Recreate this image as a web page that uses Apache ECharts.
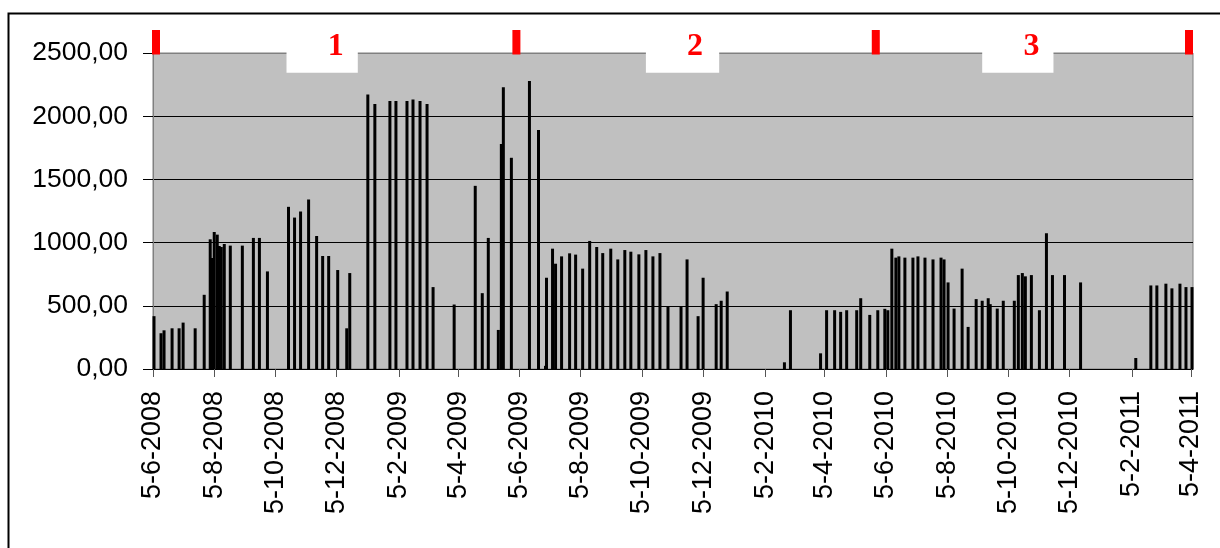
<!DOCTYPE html>
<html><head><meta charset="utf-8">
<script src="https://cdn.jsdelivr.net/npm/echarts@6/dist/echarts.min.js"></script>
<style>html,body{margin:0;padding:0;background:#fff}#c{width:1220px;height:548px}</style>
</head><body><div id="c"></div>
<script>
const axisStart = '2008-06-05';
const axisEnd = '2011-04-07';
const barDates = [
 '2008-06-06','2008-06-13','2008-06-16','2008-06-24','2008-07-01','2008-07-05','2008-07-17','2008-07-26',
 '2008-08-01','2008-08-03','2008-08-05','2008-08-08','2008-08-10','2008-08-12','2008-08-15','2008-08-21',
 '2008-09-02','2008-09-13','2008-09-19','2008-09-27','2008-10-18','2008-10-24','2008-10-30','2008-11-07',
 '2008-11-15','2008-11-21','2008-11-27','2008-12-06','2008-12-15','2008-12-18',
 '2009-01-05','2009-01-12','2009-01-27','2009-02-02','2009-02-13','2009-02-19','2009-02-26','2009-03-05',
 '2009-03-11','2009-04-01','2009-04-22','2009-04-29','2009-05-05','2009-05-15','2009-05-18','2009-05-20',
 '2009-05-28','2009-06-15','2009-06-24','2009-07-01','2009-07-02','2009-07-08','2009-07-11','2009-07-17',
 '2009-07-25','2009-07-31','2009-08-07','2009-08-14','2009-08-21','2009-08-27','2009-09-04','2009-09-11',
 '2009-09-18','2009-09-24','2009-10-02','2009-10-09','2009-10-16','2009-10-23','2009-10-31','2009-11-13',
 '2009-11-19','2009-11-30','2009-12-05','2009-12-18','2009-12-23','2009-12-29',
 '2010-02-24','2010-03-02','2010-04-01','2010-04-07','2010-04-15','2010-04-21','2010-04-27','2010-05-07',
 '2010-05-11','2010-05-20','2010-05-28','2010-06-04','2010-06-07','2010-06-11','2010-06-15','2010-06-18',
 '2010-06-24','2010-07-02','2010-07-07','2010-07-14','2010-07-22','2010-07-30','2010-08-02','2010-08-06',
 '2010-08-12','2010-08-20','2010-08-26','2010-09-03','2010-09-09','2010-09-15','2010-09-17','2010-09-24',
 '2010-09-30','2010-10-11','2010-10-15','2010-10-19','2010-10-22','2010-10-28','2010-11-05','2010-11-12',
 '2010-11-18','2010-11-30','2010-12-16',
 '2011-02-09','2011-02-24','2011-03-02','2011-03-11','2011-03-17','2011-03-25','2011-03-31','2011-04-06'
];
const barValues = [
 418,283,306,322,322,367,322,587,
 1026,878,1084,1063,973,965,989,976,
 976,1037,1037,772,1283,1198,1246,1341,
 1052,894,894,783,322,759,
 2171,2097,2121,2121,2121,2132,2121,2097,
 648,510,1449,600,1037,309,1780,2230,
 1671,2278,1891,25,722,952,833,891,
 915,905,794,1013,965,917,952,867,
 941,928,907,941,891,917,492,492,
 867,418,722,513,540,613,
 53,465,124,465,465,452,465,465,
 560,428,465,476,465,952,881,891,
 881,881,891,881,867,881,867,685,
 478,794,333,553,540,560,513,478,
 540,540,743,759,733,743,465,1074,
 743,743,685,
 87,661,661,675,638,675,648,648
];
const yMin = 0, yMax = 2500, yStep = 500;
const periodLabels = ['1','2','3'];
const periodBoxStart = ['2008-10-16','2009-10-09','2010-09-09'];
const periodBoxEnd = ['2008-12-26','2009-12-21','2010-11-19'];
const periodLabelDate = ['2008-12-04','2009-11-27','2010-10-28'];
const periodBoxBottom = 2343;
const periodMarkerDates = ['2008-06-08','2009-06-02','2010-05-26','2011-04-03'];

const cats = [];
for (let t = Date.parse(axisStart + 'T00:00:00Z'); t <= Date.parse(axisEnd + 'T00:00:00Z'); t += 86400000) {
  cats.push(new Date(t).toISOString().slice(0, 10));
}
const isTick = (i, v) => v.slice(8) === '05' && parseInt(v.slice(5, 7), 10) % 2 === 0;
const seriesData = barDates.map((d, i) => [d, barValues[i]]);

const chart = echarts.init(document.getElementById('c'));
chart.setOption({
  animation: false,
  backgroundColor: '#fff',
  grid: { left: 153, right: 27, top: 53, bottom: 179, show: true, backgroundColor: '#C0C0C0', borderColor: '#808080', borderWidth: 1 },
  xAxis: {
    type: 'category', data: cats, boundaryGap: false,
    axisLine: { show: true, lineStyle: { color: '#000', width: 1 } },
    axisTick: { show: true, interval: isTick, length: 8, lineStyle: { color: '#555' } },
    axisLabel: {
      interval: isTick, rotate: 90, margin: 22, color: '#000',
      fontFamily: '"Liberation Sans", Arial, sans-serif', fontSize: 27,
      formatter: v => `${+v.slice(8)}-${+v.slice(5, 7)}-${v.slice(0, 4)}`
    },
    splitLine: { show: false }
  },
  yAxis: {
    type: 'value', min: yMin, max: yMax, interval: yStep,
    axisLine: { show: true, lineStyle: { color: '#808080', width: 1 } },
    axisTick: { show: true, length: 10, lineStyle: { color: '#000' } },
    axisLabel: {
      margin: 25, color: '#000', fontFamily: '"Liberation Sans", Arial, sans-serif', fontSize: 26.5,
      formatter: v => v.toFixed(2).replace('.', ',')
    },
    splitLine: { show: true, lineStyle: { color: ['#000', '#000', '#000', '#000', '#000', '#808080'], width: 1 } }
  },
  series: [{
    type: 'bar', data: seriesData, barWidth: 3, itemStyle: { color: '#000' }, silent: true
  }]
});

const px = d => chart.convertToPixel({ xAxisIndex: 0 }, d);
const py = v => chart.convertToPixel({ yAxisIndex: 0 }, v);
const topY = py(yMax);
const g = [];
periodMarkerDates.forEach(d => {
  g.push({ type: 'rect', z: 100, shape: { x: px(d) - 4, y: topY - 23, width: 8, height: 24.5 }, style: { fill: '#FF0000' } });
});
periodLabels.forEach((lab, i) => {
  const x0 = px(periodBoxStart[i]), x1 = px(periodBoxEnd[i]);
  g.push({ type: 'rect', z: 100, shape: { x: x0, y: topY - 1, width: x1 - x0, height: py(periodBoxBottom) - topY + 1 }, style: { fill: '#fff' } });
  g.push({ type: 'text', z: 101, x: px(periodLabelDate[i]), y: topY - 6,
    style: { text: lab, fill: '#FF0000', font: 'bold 32px "Liberation Serif", "Times New Roman", serif', textAlign: 'center', textVerticalAlign: 'middle' } });
});
g.push({ type: 'rect', z: 100, shape: { x: 8.5, y: 13.5, width: 1240, height: 600 }, style: { fill: 'none', stroke: '#000', lineWidth: 2 } });
chart.setOption({ graphic: g });
</script>
</body></html>
